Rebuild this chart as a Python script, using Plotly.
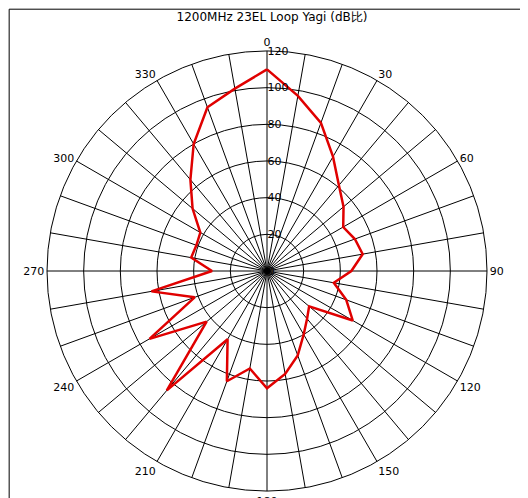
import plotly.graph_objects as go

angles = list(range(0, 361, 10))
gain = [110, 97, 86, 72, 61, 54.5, 48, 51, 53, 46, 37, 46, 54, 30, 34, 40, 49, 57,
        64, 54, 64, 43, 85, 43, 74, 42, 64, 30, 42, 41, 42, 53, 65, 80, 95, 101, 110]

fig = go.Figure()
fig.add_trace(go.Scatterpolar(
    r=gain, theta=angles, mode='lines',
    line=dict(color='#e00000', width=2.5),
    showlegend=False,
))

fig.update_layout(
    width=528, height=498,
    paper_bgcolor='white',
    margin=dict(l=39, r=49, t=43, b=15),
    font=dict(family='DejaVu Sans', size=11, color='black'),
    title=dict(text='1200MHz 23EL Loop Yagi (dB比)', x=0.5, y=0.99,
               xanchor='center', yanchor='top', font=dict(size=12)),
    polar=dict(
        bgcolor='white',
        angularaxis=dict(
            direction='clockwise', rotation=90,
            tickmode='array', tickvals=list(range(0, 360, 10)),
            ticktext=[str(a) if a % 30 == 0 else '' for a in range(0, 360, 10)],
            gridcolor='black', gridwidth=1, linecolor='black', linewidth=1,
            ticks='', showline=True,
        ),
        radialaxis=dict(
            range=[0, 120], tickvals=[0, 20, 40, 60, 80, 100, 120],
            angle=90, tickangle=90, gridcolor='black', gridwidth=1,
            showline=False, ticks='', tickfont=dict(size=11),
        ),
    ),
    shapes=[dict(type='rect', xref='paper', yref='paper', x0=-0.086, x1=1.107,
                 y0=-0.032, y1=1.095, line=dict(color='black', width=1))],
)

fig.write_html("out.html")
